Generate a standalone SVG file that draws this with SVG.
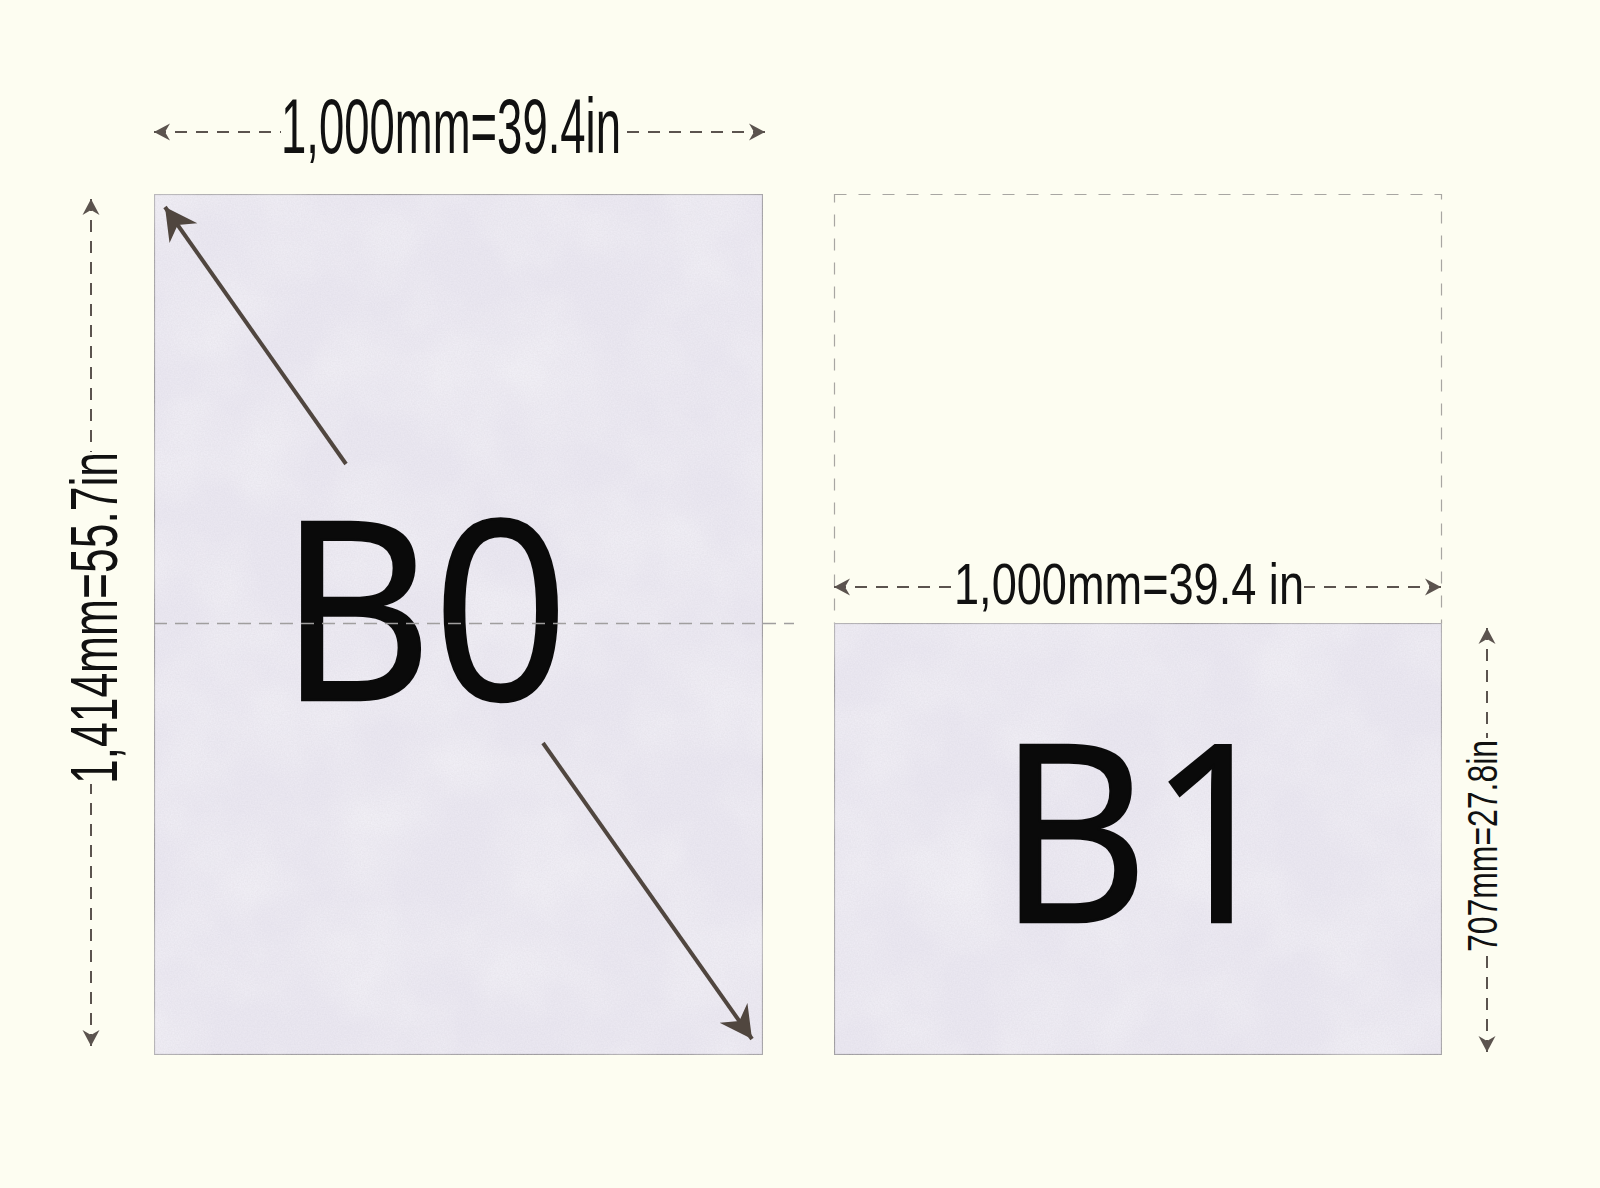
<svg xmlns="http://www.w3.org/2000/svg" width="1600" height="1188" viewBox="0 0 1600 1188">
  <style>
    .paper { fill: #ebe8f2; stroke: #9c9a9c; stroke-width: 1.2; }
    .dim { stroke: #5b534e; stroke-width: 2; stroke-dasharray: 12 9; fill: none; }
    .guide { stroke: #a8a6a2; stroke-width: 1.2; stroke-dasharray: 12 12; fill: none; }
    .mid { stroke: #a09e9e; stroke-width: 1.3; stroke-dasharray: 13 8; fill: none; }
    .diag { stroke: #50463f; stroke-width: 4; fill: none; }
    .dimtext { font-family: "Liberation Sans", "DejaVu Sans", sans-serif; fill: #111; }
    .big { font-family: "Open Sans", "Liberation Sans", sans-serif; fill: #0a0a0a; stroke: #0a0a0a; stroke-width: 2.5; }
  </style>
  <defs>
    <marker id="dimArrow" markerUnits="userSpaceOnUse" viewBox="-18 -10 20 20" markerWidth="20" markerHeight="20" refX="0" refY="0" orient="auto-start-reverse">
      <path d="M0,0 L-16,-8.5 L-11,0 L-16,8.5 Z" fill="#5b534e"/>
    </marker>
    <marker id="bigArrow" markerUnits="userSpaceOnUse" viewBox="-34 -19 36 38" markerWidth="36" markerHeight="38" refX="0" refY="0" orient="auto">
      <path d="M0,0 L-32,-17 L-22,0 L-32,17 Z" fill="#50463f"/>
    </marker>
    <filter id="grain" x="0" y="0" width="1" height="1">
      <feTurbulence type="fractalNoise" baseFrequency="0.7" numOctaves="2" seed="3" result="n"/>
      <feColorMatrix in="n" type="matrix" values="0 0 0 0 0.6  0 0 0 0 0.58  0 0 0 0 0.65  0 0 0 0.35 -0.05" result="c"/>
      <feTurbulence type="fractalNoise" baseFrequency="0.012" numOctaves="3" seed="8" result="m"/>
      <feColorMatrix in="m" type="matrix" values="0 0 0 0 1  0 0 0 0 1  0 0 0 0 1  0 0 0 0.6 -0.2" result="w"/>
      <feMerge result="all"><feMergeNode in="SourceGraphic"/><feMergeNode in="w"/><feMergeNode in="c"/></feMerge>
      <feComposite in="all" in2="SourceGraphic" operator="in"/>
    </filter>
  </defs>

  <rect x="0" y="0" width="1600" height="1188" fill="#fdfdf1"/>

  <g id="B0">
    <rect class="paper" x="154.5" y="194.5" width="608" height="860" filter="url(#grain)"/>
    <text class="big" x="424" y="700" font-size="250" text-anchor="middle" textLength="290" lengthAdjust="spacingAndGlyphs">B0</text>
    <line class="mid" x1="154" y1="623.5" x2="794" y2="623.5"/>
  </g>

  <g id="B1-outline">
    <rect class="guide" x="834.5" y="194.5" width="607" height="429"/>
  </g>

  <g id="B1">
    <rect class="paper" x="834.5" y="623.5" width="607" height="431" filter="url(#grain)"/>
    <text class="big" x="1140" y="922" font-size="248" text-anchor="middle" textLength="284" lengthAdjust="spacingAndGlyphs">B1</text>
  </g>

  <g id="connectors">
    <line class="diag" x1="346" y1="464" x2="165" y2="207" marker-end="url(#bigArrow)"/>
    <line class="diag" x1="543" y1="743" x2="752" y2="1039" marker-end="url(#bigArrow)"/>

    <line class="dim" x1="154" y1="132" x2="281" y2="132" marker-start="url(#dimArrow)"/>
    <line class="dim" x1="765" y1="132" x2="620" y2="132" marker-start="url(#dimArrow)"/>

    <line class="dim" x1="91" y1="199" x2="91" y2="452" marker-start="url(#dimArrow)"/>
    <line class="dim" x1="91" y1="1046" x2="91" y2="784" marker-start="url(#dimArrow)"/>

    <line class="dim" x1="834" y1="587" x2="954" y2="587" marker-start="url(#dimArrow)"/>
    <line class="dim" x1="1441" y1="587" x2="1304" y2="587" marker-start="url(#dimArrow)"/>

    <line class="dim" x1="1487" y1="628" x2="1487" y2="738" marker-start="url(#dimArrow)"/>
    <line class="dim" x1="1487" y1="1052" x2="1487" y2="950" marker-start="url(#dimArrow)"/>
  </g>

  <g id="labels">
    <text class="dimtext" x="281" y="153" font-size="78" textLength="340" lengthAdjust="spacingAndGlyphs">1,000mm=39.4in</text>
    <text class="dimtext" transform="translate(117,784) rotate(-90)" x="0" y="0" font-size="66" textLength="332" lengthAdjust="spacingAndGlyphs">1,414mm=55.7in</text>
    <text class="dimtext" x="954" y="604" font-size="57" textLength="350" lengthAdjust="spacingAndGlyphs">1,000mm=39.4 in</text>
    <text class="dimtext" transform="translate(1497,952) rotate(-90)" x="0" y="0" font-size="43" textLength="212" lengthAdjust="spacingAndGlyphs">707mm=27.8in</text>
  </g>
</svg>
